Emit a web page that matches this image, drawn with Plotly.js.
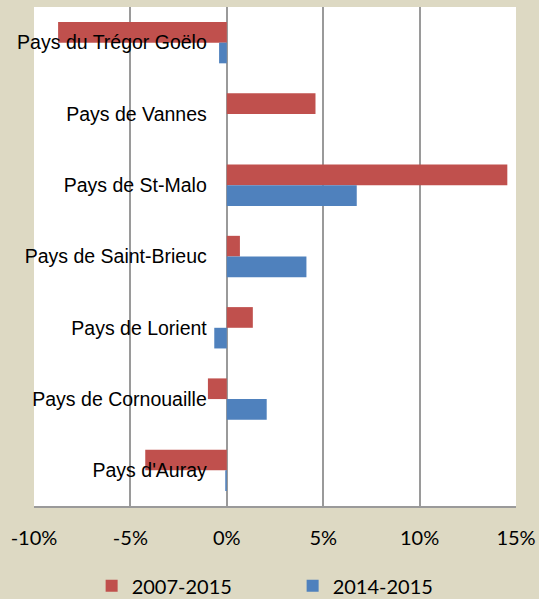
<!DOCTYPE html>
<html><head><meta charset="utf-8">
<script src="https://cdn.plot.ly/plotly-3.0.1.min.js"></script>
<style>html,body{margin:0;padding:0;background:#DDD9C3;}#chart{width:539px;height:599px;}</style>
</head><body><div id="chart"></div>
<script>
const categories = ["Pays du Trégor Goëlo","Pays de Vannes","Pays de St-Malo","Pays de Saint-Brieuc","Pays de Lorient","Pays de Cornouaille","Pays d'Auray"];
const s2007_2015 = [-8.75, 4.6, 14.55, 0.68, 1.35, -0.98, -4.23];
const s2014_2015 = [-0.4, 0, 6.74, 4.13, -0.65, 2.07, -0.08];
const tickVals = [-10,-5,0,5,10,15];
const tickText = ["-10%","-5%","0%","5%","10%","15%"];

const traces = [
  {type:'bar', orientation:'h', name:'2007-2015', y:categories, x:s2007_2015, marker:{color:'#C0504D'}},
  {type:'bar', orientation:'h', name:'2014-2015', y:categories, x:s2014_2015, marker:{color:'#4F81BD'}}
];
const layout = {
  width:539, height:599,
  margin:{l:34, r:23, t:7, b:93, pad:0, autoexpand:false},
  paper_bgcolor:'#DDD9C3', plot_bgcolor:'#FFFFFF',
  barmode:'group', bargap:0.42, bargroupgap:0,
  showlegend:true,
  legend:{orientation:'h', xref:'container', yref:'container', x:0.17, xanchor:'left', y:0.022, yanchor:'middle',
          itemwidth:30, entrywidth:156,
          font:{family:'Lato, sans-serif', size:20, color:'#000'}, bgcolor:'rgba(0,0,0,0)'},
  xaxis:{range:[-10,15], tickvals:tickVals, ticktext:tickText, showgrid:true, gridcolor:'#9A9A9A', gridwidth:2,
         zeroline:false, showline:true, linecolor:'#9A9A9A', linewidth:2, ticks:'', ticklabelstandoff:13,
         tickfont:{family:'Lato, sans-serif', size:20, color:'#000'}, fixedrange:true},
  yaxis:{type:'category', autorange:'reversed', anchor:'free', position:0.4, showline:false, showgrid:false,
         zeroline:false, ticks:'', ticklabelstandoff:20,
         tickfont:{family:'"Liberation Sans", Arial, sans-serif', size:19.5, color:'#000'}}
};
Plotly.newPlot('chart', traces, layout, {displayModeBar:false, staticPlot:true});
</script></body></html>
